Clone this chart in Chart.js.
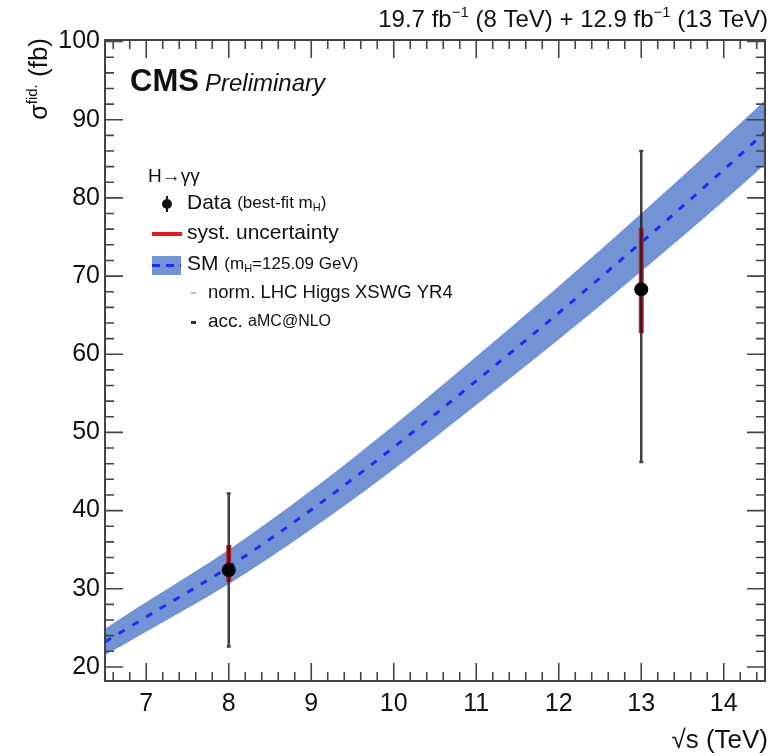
<!DOCTYPE html>
<html>
<head>
<meta charset="utf-8">
<script src="https://cdn.jsdelivr.net/npm/chart.js@4.4.1/dist/chart.umd.min.js"></script>
<style>
  html, body { margin: 0; padding: 0; background: #fff; }
  #wrap { width: 772px; height: 756px; }
</style>
</head>
<body>
<div id="wrap"><canvas id="xsec" width="772" height="756"></canvas></div>
<script>
// SM prediction band, sampled in sqrt(s) (TeV)
const energies  = [6.5, 7, 8, 9, 10, 11, 12, 13, 14, 14.5];
const smCentral = [23.2, 26.4, 32.8, 40.1, 48.1, 56.6, 65.3, 74.3, 83.6, 88.4];
const smHigh    = [24.9, 28.3, 35.0, 42.6, 50.9, 59.7, 68.7, 78.0, 87.6, 92.5];
const smLow     = [21.5, 24.5, 30.6, 37.6, 45.3, 53.5, 61.9, 70.6, 79.6, 84.3];

// measured fiducial cross sections
const dataEnergies = [8, 13];
const dataValues   = [32.4, 68.3];
const totLow   = [22.6, 46.2];
const totHigh  = [42.2, 86.0];
const systLow  = [30.9, 62.7];
const systHigh = [35.6, 76.2];

const xTicks = [7, 8, 9, 10, 11, 12, 13, 14];
const yTicks = [20, 30, 40, 50, 60, 70, 80, 90, 100];

const FONT = '"Liberation Sans", Arial, sans-serif';
const bandColor = 'rgb(114,148,212)';
const dashBlue = 'rgb(30,45,245)';

function pts(xs, ys) {
  return xs.map((x, i) => ({ x: x, y: ys[i] }));
}

// draw a row of text pieces: [text, size, dy, style]
function textRun(ctx, x, y, parts, align) {
  let w = 0;
  parts.forEach(p => {
    ctx.font = (p[3] || '') + ' ' + p[1] + 'px ' + FONT;
    w += ctx.measureText(p[0]).width;
  });
  let cx = align === 'right' ? x - w : x;
  parts.forEach(p => {
    ctx.font = (p[3] || '') + ' ' + p[1] + 'px ' + FONT;
    ctx.fillText(p[0], cx, y + (p[2] || 0));
    cx += ctx.measureText(p[0]).width;
  });
}

const errorBars = {
  id: 'errorBars',
  beforeDatasetDraw(chart, args) {
    if (args.index !== 0) return;
    const ctx = chart.ctx, xs = chart.scales.x, ys = chart.scales.y;
    ctx.save();
    dataEnergies.forEach((e, i) => {
      const px = xs.getPixelForValue(e);
      ctx.strokeStyle = 'rgb(215,25,30)';
      ctx.lineWidth = 5;
      ctx.beginPath();
      ctx.moveTo(px, ys.getPixelForValue(systLow[i]));
      ctx.lineTo(px, ys.getPixelForValue(systHigh[i]));
      ctx.stroke();
      ctx.strokeStyle = 'rgba(30,30,30,0.85)';
      ctx.lineWidth = 2.5;
      const t = ys.getPixelForValue(totHigh[i]), b = ys.getPixelForValue(totLow[i]);
      ctx.beginPath();
      ctx.moveTo(px, t);
      ctx.lineTo(px, b);
      ctx.moveTo(px - 2, t); ctx.lineTo(px + 2, t);
      ctx.moveTo(px - 2, b); ctx.lineTo(px + 2, b);
      ctx.stroke();
    });
    ctx.restore();
  }
};

const frameAndText = {
  id: 'frameAndText',
  afterDraw(chart) {
    const ctx = chart.ctx, a = chart.chartArea;
    const xs = chart.scales.x, ys = chart.scales.y;
    ctx.save();
    ctx.strokeStyle = '#444';
    ctx.lineWidth = 1.6;
    ctx.beginPath();
    // x ticks every 0.2, major at integers
    for (let i = 33; i <= 72; i++) {
      const px = xs.getPixelForValue(i / 5);
      const len = i % 5 === 0 ? 18 : 9;
      ctx.moveTo(px, a.bottom); ctx.lineTo(px, a.bottom - len);
      ctx.moveTo(px, a.top); ctx.lineTo(px, a.top + len);
    }
    // y ticks every 2, major every 10
    for (let v = 20; v <= 100; v += 2) {
      const py = ys.getPixelForValue(v);
      const len = v % 10 === 0 ? 18 : 9;
      ctx.moveTo(a.left, py); ctx.lineTo(a.left + len, py);
      ctx.moveTo(a.right, py); ctx.lineTo(a.right - len, py);
    }
    ctx.stroke();
    ctx.lineWidth = 2;
    ctx.strokeRect(a.left, a.top, a.right - a.left, a.bottom - a.top);

    ctx.fillStyle = '#111';
    ctx.textBaseline = 'alphabetic';
    // lumi label
    textRun(ctx, 768, 27, [
      ['19.7 fb', 24], ['\u22121', 15, -10], [' (8 TeV) + 12.9 fb', 24], ['\u22121', 15, -10], [' (13 TeV)', 24]
    ], 'right');
    // CMS Preliminary
    textRun(ctx, 130, 91, [['CMS', 31, 0, 'bold'], [' ', 22], ['Preliminary', 24, 0, 'italic']]);

    // axis titles
    textRun(ctx, 768, 748, [['\u221As (TeV)', 26]], 'right');
    ctx.save();
    ctx.translate(47, 38);
    ctx.rotate(-Math.PI / 2);
    textRun(ctx, 0, 0, [['\u03C3', 25], ['fid.', 15, -10], [' (fb)', 26]], 'right');
    ctx.restore();

    // legend
    ctx.textBaseline = 'middle';
    textRun(ctx, 148, 177, [['H\u2192\u03B3\u03B3', 19]]);

    ctx.beginPath();
    ctx.lineWidth = 2;
    ctx.strokeStyle = '#111';
    ctx.moveTo(167, 196); ctx.lineTo(167, 212);
    ctx.stroke();
    ctx.beginPath();
    ctx.arc(167, 204, 5, 0, Math.PI * 2);
    ctx.fill();
    textRun(ctx, 187, 203, [['Data ', 21], ['(best-fit m', 17], ['H', 11, 5], [')', 17]]);

    ctx.strokeStyle = 'rgb(225,25,30)';
    ctx.lineWidth = 4;
    ctx.beginPath();
    ctx.moveTo(152, 234); ctx.lineTo(182, 234);
    ctx.stroke();
    textRun(ctx, 187, 233, [['syst. uncertainty', 21]]);

    ctx.fillStyle = bandColor;
    ctx.fillRect(152, 256, 29, 19);
    ctx.strokeStyle = dashBlue;
    ctx.lineWidth = 3;
    ctx.setLineDash([8, 6]);
    ctx.beginPath();
    ctx.moveTo(152, 265.5); ctx.lineTo(181, 265.5);
    ctx.stroke();
    ctx.setLineDash([]);
    ctx.fillStyle = '#111';
    textRun(ctx, 187, 264, [['SM ', 21], ['(m', 17], ['H', 11, 5], ['=125.09 GeV)', 17]]);

    ctx.fillStyle = '#bbb';
    ctx.fillRect(191, 292, 5, 2);
    ctx.fillStyle = '#333';
    ctx.fillRect(191, 321, 5, 3);
    ctx.fillStyle = '#111';
    textRun(ctx, 208, 293, [['norm. LHC Higgs XSWG YR4', 18.5]]);
    textRun(ctx, 208, 322, [['acc. ', 19], ['aMC@NLO', 16]]);
    ctx.restore();
  }
};

new Chart(document.getElementById('xsec'), {
  type: 'line',
  data: {
    datasets: [
      {
        label: 'Data',
        data: pts(dataEnergies, dataValues),
        showLine: false,
        pointRadius: 7,
        pointBackgroundColor: '#000',
        pointBorderWidth: 0,
        order: 0
      },
      {
        label: 'SM',
        data: pts(energies, smCentral),
        borderColor: dashBlue,
        borderWidth: 3,
        borderDash: [7, 9],
        pointRadius: 0,
        cubicInterpolationMode: 'monotone',
        fill: false,
        order: 1
      },
      {
        label: 'SM up',
        data: pts(energies, smHigh),
        borderWidth: 0,
        borderColor: bandColor,
        backgroundColor: bandColor,
        pointRadius: 0,
        cubicInterpolationMode: 'monotone',
        fill: '+1',
        order: 2
      },
      {
        label: 'SM down',
        data: pts(energies, smLow),
        borderWidth: 0,
        borderColor: bandColor,
        pointRadius: 0,
        cubicInterpolationMode: 'monotone',
        fill: false,
        order: 3
      }
    ]
  },
  options: {
    responsive: false,
    animation: false,
    layout: { padding: { top: 40, right: 3, left: 0, bottom: 0 } },
    plugins: {
      legend: { display: false },
      tooltip: { enabled: false }
    },
    scales: {
      x: {
        type: 'linear',
        min: 6.5,
        max: 14.5,
        grid: { display: false, drawTicks: false },
        border: { display: false },
        afterBuildTicks: s => { s.ticks = xTicks.map(v => ({ value: v })); },
        afterFit: s => { s.height = 75; },
        ticks: {
          padding: 8,
          color: '#111',
          font: { family: FONT, size: 25 },
          maxRotation: 0
        }
      },
      y: {
        min: 18.2,
        max: 100.2,
        grid: { display: false, drawTicks: false },
        border: { display: false },
        afterBuildTicks: s => { s.ticks = yTicks.map(v => ({ value: v })); },
        afterFit: s => { s.width = 105; },
        ticks: {
          padding: 5,
          color: '#111',
          font: { family: FONT, size: 25 }
        }
      }
    }
  },
  plugins: [errorBars, frameAndText]
});
</script>
</body>
</html>
